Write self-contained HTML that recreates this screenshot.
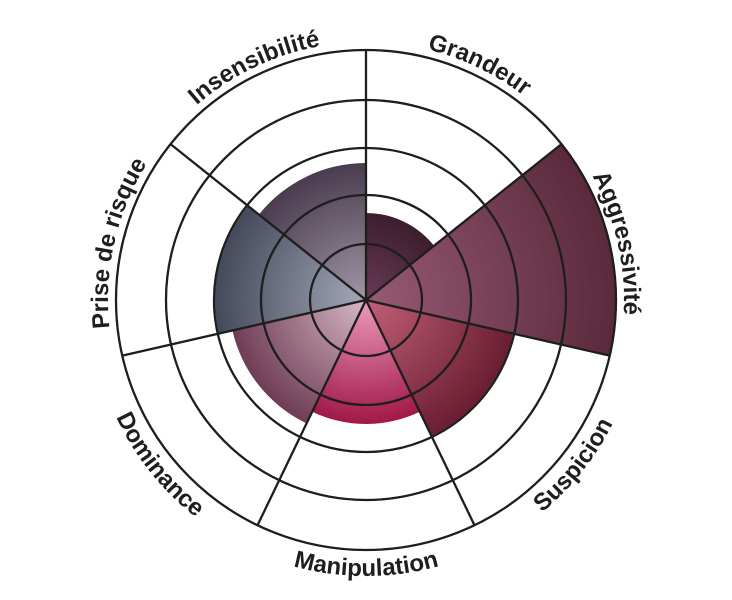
<!DOCTYPE html>
<html><head><meta charset="utf-8"><style>
html,body{margin:0;padding:0;background:#fff;}
svg{display:block;}
text{font-family:"Liberation Sans",sans-serif;font-weight:bold;font-size:24px;fill:#1e1e1e;}
</style></head><body>
<svg width="732" height="600" viewBox="0 0 732 600" xmlns="http://www.w3.org/2000/svg">
<defs>
<radialGradient id="g1" gradientUnits="userSpaceOnUse" cx="366" cy="300" r="87"><stop offset="0" stop-color="#6a3a55"/><stop offset="1" stop-color="#3c1e2e"/></radialGradient>
<radialGradient id="g2" gradientUnits="userSpaceOnUse" cx="366" cy="300" r="250"><stop offset="0" stop-color="#985a74"/><stop offset="1" stop-color="#5a2a3c"/></radialGradient>
<radialGradient id="g3" gradientUnits="userSpaceOnUse" cx="366" cy="300" r="151"><stop offset="0" stop-color="#c26078"/><stop offset="1" stop-color="#6a1e32"/></radialGradient>
<radialGradient id="g4" gradientUnits="userSpaceOnUse" cx="366" cy="300" r="124"><stop offset="0" stop-color="#ec9cbc"/><stop offset="1" stop-color="#a01848"/></radialGradient>
<radialGradient id="g5" gradientUnits="userSpaceOnUse" cx="366" cy="300" r="137"><stop offset="0" stop-color="#d8b8c4"/><stop offset="1" stop-color="#6e3d55"/></radialGradient>
<radialGradient id="g6" gradientUnits="userSpaceOnUse" cx="366" cy="300" r="151"><stop offset="0" stop-color="#a4a8b8"/><stop offset="1" stop-color="#454a5a"/></radialGradient>
<radialGradient id="g7" gradientUnits="userSpaceOnUse" cx="366" cy="300" r="137"><stop offset="0" stop-color="#a098a6"/><stop offset="1" stop-color="#4a3c4e"/></radialGradient>
<path id="cw" d="M366,558 A258,258 0 1 1 366,42 A258,258 0 1 1 366,558"/>
<path id="ccw" d="M366,24 A276,276 0 1 0 366,576 A276,276 0 1 0 366,24"/>
</defs>
<g id="sectors"></g>
<script>
(function(){
var cx=366,cy=300,ns="http://www.w3.org/2000/svg";
var r=[87,250,151,124,137,151,137];
var g=document.getElementById("sectors");
function pt(a,rr){a=a*Math.PI/180;return (cx+rr*Math.cos(a)).toFixed(2)+","+(cy+rr*Math.sin(a)).toFixed(2);}
for(var i=0;i<7;i++){
var a0=-90+i*360/7,a1=a0+360/7;
var p=document.createElementNS(ns,"path");
p.setAttribute("d","M"+cx+","+cy+" L"+pt(a0,r[i])+" A"+r[i]+","+r[i]+" 0 0 1 "+pt(a1,r[i])+" Z");
p.setAttribute("fill","url(#g"+(i+1)+")");
g.appendChild(p);
}
var rings=[56,105,152,200,250];
rings.forEach(function(rr){var c=document.createElementNS(ns,"circle");c.setAttribute("cx",cx);c.setAttribute("cy",cy);c.setAttribute("r",rr);c.setAttribute("fill","none");c.setAttribute("stroke","#1e1e1e");c.setAttribute("stroke-width","2.3");g.appendChild(c);});
for(var i=0;i<7;i++){var a=-90+i*360/7;var l=document.createElementNS(ns,"line");l.setAttribute("x1",cx);l.setAttribute("y1",cy);var e=pt(a,250).split(",");l.setAttribute("x2",e[0]);l.setAttribute("y2",e[1]);l.setAttribute("stroke","#1e1e1e");l.setAttribute("stroke-width","2.3");g.appendChild(l);}
})();
</script>
<text text-anchor="middle"><textPath href="#cw" startOffset="926">Grandeur</textPath></text>
<text text-anchor="middle"><textPath href="#cw" startOffset="1158">Aggressivité</textPath></text>
<text text-anchor="middle"><textPath href="#cw" startOffset="463">Prise de risque</textPath></text>
<text text-anchor="middle"><textPath href="#cw" startOffset="695">Insensibilité</textPath></text>
<text text-anchor="middle"><textPath href="#ccw" startOffset="867">Manipulation</textPath></text>
<text text-anchor="middle"><textPath href="#ccw" startOffset="1115">Suspicion</textPath></text>
<text text-anchor="middle"><textPath href="#ccw" startOffset="619">Dominance</textPath></text>
</svg>
</body></html>
